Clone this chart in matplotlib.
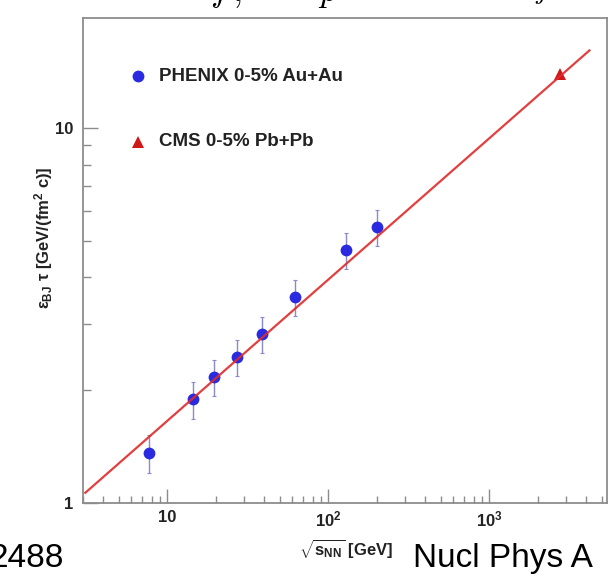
import numpy as np
import matplotlib
matplotlib.use("Agg")
import matplotlib.pyplot as plt
from matplotlib.ticker import FixedLocator, FixedFormatter, LogLocator, NullFormatter

plt.rcParams['font.family'] = ['Liberation Sans', 'DejaVu Sans']
plt.rcParams['mathtext.fontset'] = 'custom'
plt.rcParams['mathtext.rm'] = 'Liberation Sans:bold'
plt.rcParams['mathtext.it'] = 'Liberation Sans:bold'
plt.rcParams['mathtext.bf'] = 'Liberation Sans:bold'

# Data
phenix_sqrts = [7.7, 14.5, 19.6, 27, 39, 62.4, 130, 200]
phenix_eps_tau = [1.36, 1.89, 2.17, 2.45, 2.82, 3.54, 4.73, 5.45]
phenix_err = [0.16, 0.21, 0.24, 0.27, 0.31, 0.39, 0.53, 0.60]
cms_sqrts = [2760]
cms_eps_tau = [14.0]
fit_norm = 0.695
fit_power = 0.377
fit_range = [3.1, 4200]
xtick_vals = [10, 100, 1000]
xtick_labels = ["10", "$10^{2}$", "$10^{3}$"]
ytick_vals = [1, 10]
ytick_labels = ["1", "10"]

W, H = 616, 578
fig = plt.figure(figsize=(W / 100, H / 100), dpi=100)
ax = fig.add_axes([83 / W, 1 - 503 / H, (607 - 83) / W, (503 - 18) / H])
ax.set_xscale('log')
ax.set_yscale('log')
ax.set_xlim(3.0, 5400)
ax.set_ylim(1, 19.7)

blue = '#2a2ae0'
red = '#e02a2a'

ax.errorbar(phenix_sqrts, phenix_eps_tau, yerr=phenix_err, fmt='none',
            ecolor='#8a8ac8', elinewidth=1.0, capsize=1.5, capthick=0.8, zorder=2)
ax.plot(phenix_sqrts, phenix_eps_tau, 'o', color=blue, markersize=8.5, zorder=3,
        markeredgewidth=0)
ax.plot(cms_sqrts, cms_eps_tau, '^', color='#d01818', markersize=8.5, zorder=3,
        markeredgewidth=0)

xf = np.logspace(np.log10(fit_range[0]), np.log10(fit_range[1]), 200)
ax.plot(xf, fit_norm * xf ** fit_power, color=red, lw=1.6, zorder=4, alpha=0.9)

for s in ax.spines.values():
    s.set_color('#8c8c8c')
    s.set_linewidth(1.3)

ax.xaxis.set_major_locator(FixedLocator(xtick_vals))
ax.xaxis.set_major_formatter(FixedFormatter(xtick_labels))
ax.xaxis.set_minor_locator(LogLocator(base=10, subs=np.arange(2, 10)))
ax.xaxis.set_minor_formatter(NullFormatter())
ax.yaxis.set_major_locator(FixedLocator(ytick_vals))
ax.yaxis.set_major_formatter(FixedFormatter(ytick_labels))
ax.yaxis.set_minor_locator(LogLocator(base=10, subs=np.arange(2, 10)))
ax.yaxis.set_minor_formatter(NullFormatter())

ax.tick_params(axis='x', which='major', direction='in', length=10, width=1.0,
               color='#8c8c8c', pad=5, labelsize=12)
ax.tick_params(axis='x', which='minor', direction='in', length=5, width=1.0,
               color='#8c8c8c')
ax.tick_params(axis='y', which='major', direction='in', length=11, width=1.0,
               color='#8c8c8c', pad=7, labelsize=12)
ax.tick_params(axis='y', which='minor', direction='in', length=6, width=1.0,
               color='#8c8c8c')
for lab in ax.get_xticklabels() + ax.get_yticklabels():
    lab.set_fontweight('bold')
    lab.set_color('#222222')

# Legend (drawn manually as in original)
ax.plot([0.105], [0.88], 'o', color=blue, markersize=8.5, markeredgewidth=0,
        transform=ax.transAxes)
ax.text(0.145, 0.88, "PHENIX 0-5% Au+Au", transform=ax.transAxes, fontsize=13.5,
        fontweight='bold', va='center', ha='left', color='#222222')
ax.plot([0.105], [0.745], '^', color='#d01818', markersize=8.5, markeredgewidth=0,
        transform=ax.transAxes)
ax.text(0.145, 0.745, "CMS 0-5% Pb+Pb", transform=ax.transAxes, fontsize=13.5,
        fontweight='bold', va='center', ha='left', color='#222222')

# Axis titles
fig.text(44 / W, 1 - 238 / H, r"$\varepsilon_{BJ}\ \tau$ [GeV/(fm$^{2}$ c)]",
         rotation=90, ha='center', va='center', fontsize=12, fontweight='bold',
         color='#222222')
fig.text(346 / W, 1 - 549 / H, r"$\sqrt{s_{NN}}$ [GeV]", ha='center', va='center',
         fontsize=12, fontweight='bold', color='#222222')

# Slide text around the chart
fig.text(64 / W, 1 - 567 / H, "2488", ha='right', va='baseline', fontsize=24,
         family='Liberation Sans')
fig.text(413 / W, 1 - 567 / H, "Nucl Phys A", ha='left', va='baseline', fontsize=24,
         family='Liberation Sans')
fig.text(210 / W, 1 - 1 / H, "$f\\,,$", ha='left', va='baseline', fontsize=26,
         math_fontfamily='cm')
fig.text(318 / W, 1 - 1 / H, "$p$", ha='left', va='baseline', fontsize=26,
         math_fontfamily='cm')
fig.text(500 / W, 1 + 6 / H, r"$\varepsilon_{Bj}$", ha='left', va='baseline',
         fontsize=26, math_fontfamily='cm')

fig.savefig("out.png", dpi=100)
